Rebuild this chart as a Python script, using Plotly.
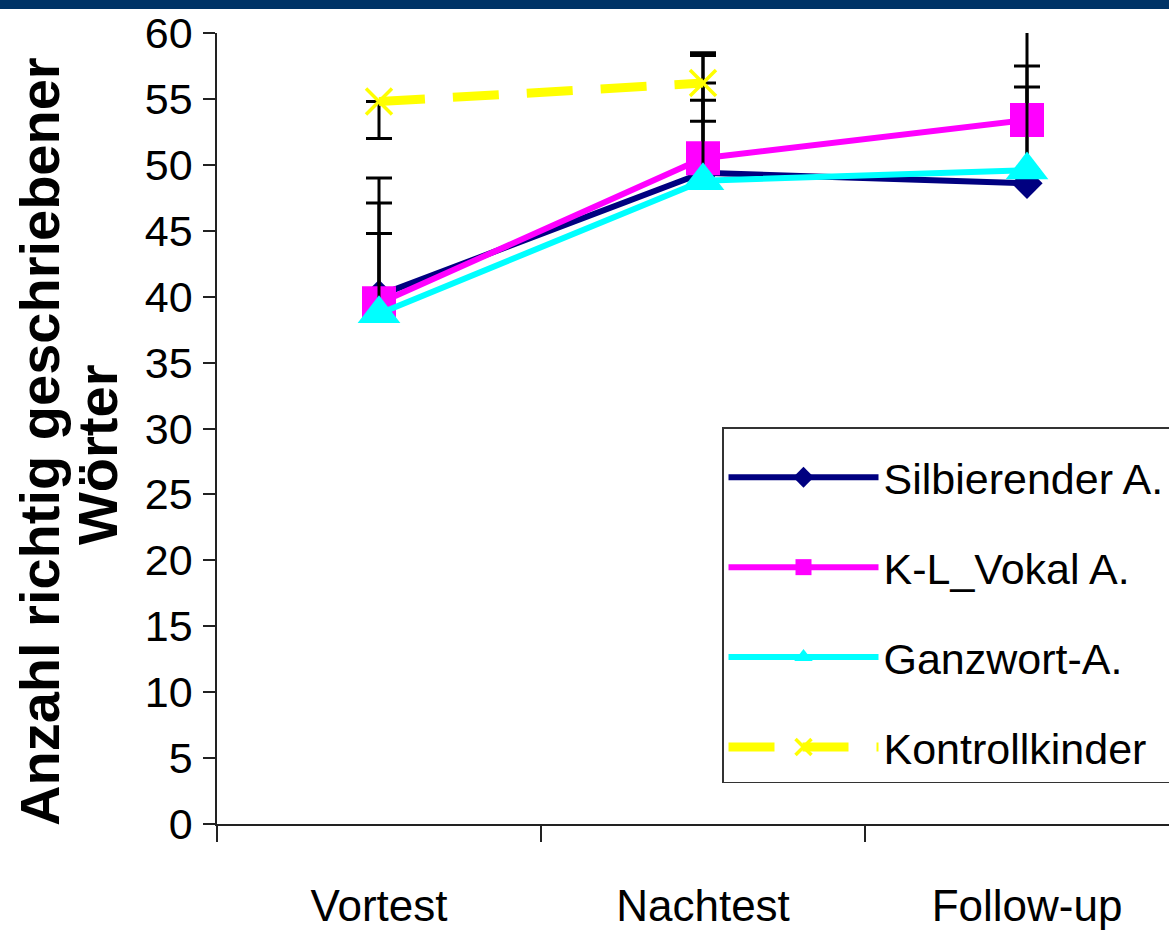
import plotly.graph_objects as go

categories = ["Vortest", "Nachtest", "Follow-up"]

silb = [40.1, 49.4, 48.6]
silb_err = [8.9, 8.9, 8.9]

klv = [39.5, 50.5, 53.4]
klv_err = [7.6, 8.0, 7.7]

ganz = [38.7, 48.8, 49.6]
ganz_err = [6.1, 6.1, 6.3]

kontroll = [54.8, 56.2, None]
kontroll_err_minus = [2.8, 2.9, 0]

y_ticks = list(range(0, 61, 5))

FONT = "Liberation Sans, Arial, sans-serif"

W, H = 1169, 931
L, R, T, B = 217, 0, 33, 107
PW, PH = W - L - R, H - T - B

def px_x(p):
    return (p - L) / PW

def px_y(p):
    return (H - B - p) / PH

fig = go.Figure()

def eb(plus, minus):
    return dict(type="data", symmetric=False, array=plus, arrayminus=minus,
                color="black", thickness=3, width=13, visible=True)

fig.add_trace(go.Scatter(
    x=categories, y=silb, name="Silbierender A.", mode="lines+markers",
    line=dict(color="#000080", width=6),
    marker=dict(symbol="diamond", size=24, color="#000080"),
    error_y=eb(silb_err, [0, 0, 0]), cliponaxis=False, legendgroup="a"))

fig.add_trace(go.Scatter(
    x=categories, y=klv, name="K-L_Vokal A.", mode="lines+markers",
    line=dict(color="#FF00FF", width=6),
    marker=dict(symbol="square", size=34, color="#FF00FF"),
    error_y=eb(klv_err, [0, 0, 0]), cliponaxis=False, legendgroup="b"))

fig.add_trace(go.Scatter(
    x=categories, y=ganz, name="Ganzwort-A.", mode="lines+markers",
    line=dict(color="#00FFFF", width=6),
    marker=dict(symbol="triangle-up", size=37, color="#00FFFF"),
    error_y=eb(ganz_err, [0, 0, 0]), cliponaxis=False, legendgroup="c"))

fig.add_trace(go.Scatter(
    x=categories, y=kontroll, name="Kontrollkinder", mode="lines+markers",
    line=dict(color="#FFFF00", width=9, dash="46px,28px"),
    marker=dict(symbol="x-thin", size=26, color="#FFFF00",
                line=dict(color="#FFFF00", width=3.5)),
    error_y=eb([0, 0, 0], kontroll_err_minus), cliponaxis=False, legendgroup="d"))

fig.update_layout(
    width=W, height=H,
    margin=dict(l=L, r=R, t=T, b=B, autoexpand=False),
    paper_bgcolor="white", plot_bgcolor="white",
    showlegend=True,
    legend=dict(
        x=px_x(722), y=px_y(427), xanchor="left", yanchor="top",
        bgcolor="white", bordercolor="#333333", borderwidth=1.5,
        font=dict(family=FONT, size=43, color="black"),
        itemwidth=150, tracegroupgap=31, traceorder="grouped",
        title=dict(text=" ", font=dict(size=11)),
    ),
    xaxis=dict(
        type="category", range=[-0.5, -0.5 + PW / 324.0],
        showline=True, linecolor="#222222", linewidth=1.5,
        ticks="outside", ticklen=16, tickwidth=1.5, tickcolor="#222222",
        tickson="boundaries", showgrid=False, zeroline=False,
        tickfont=dict(family=FONT, size=44, color="black"),
        ticklabelstandoff=42,
    ),
    yaxis=dict(
        range=[0, 60], tickvals=y_ticks,
        showline=True, linecolor="#222222", linewidth=1.5,
        ticks="outside", ticklen=12, tickwidth=1.5, tickcolor="#222222",
        showgrid=False, zeroline=False,
        tickfont=dict(family=FONT, size=43, color="black"),
        ticklabelstandoff=2,
    ),
    shapes=[dict(type="rect", xref="paper", yref="paper",
                 x0=px_x(0), x1=px_x(W), y0=px_y(9), y1=px_y(0),
                 fillcolor="#003366", line=dict(width=0), layer="above")],
    annotations=[
        dict(text="<b>Anzahl richtig geschriebener</b>", textangle=-90,
             xref="paper", yref="paper", x=px_x(40), y=px_y(442),
             xanchor="center", yanchor="middle", showarrow=False,
             font=dict(family=FONT, size=56, color="black")),
        dict(text="<b>Wörter</b>", textangle=-90,
             xref="paper", yref="paper", x=px_x(97), y=px_y(455),
             xanchor="center", yanchor="middle", showarrow=False,
             font=dict(family=FONT, size=56, color="black")),
    ],
)

fig.write_html(
    "out.html",
    config={"displayModeBar": False},
    post_script="document.body.style.margin='0';document.body.style.padding='0';document.body.style.overflow='hidden';",
)
